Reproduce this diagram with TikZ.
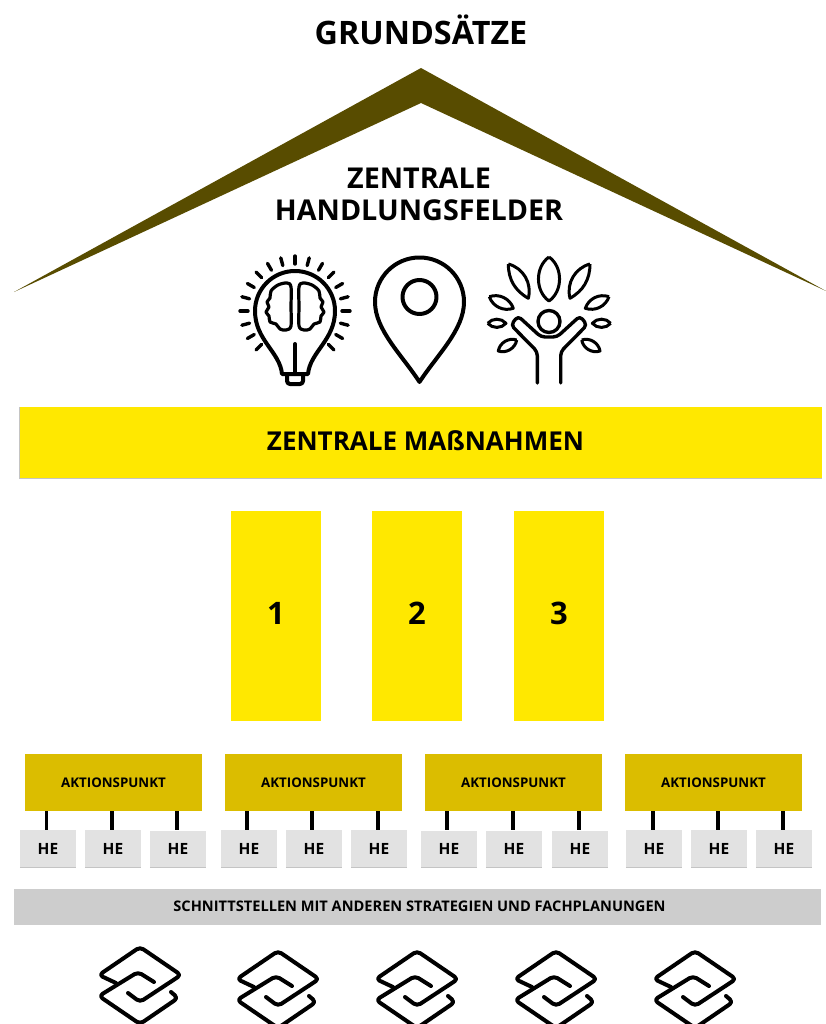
\documentclass[tikz,border=0pt]{standalone}
\usepackage{fontspec}
\setmainfont{Open Sans}
\usepackage{tikz}
\usetikzlibrary{positioning}

\definecolor{roofbrown}{HTML}{584C00}
\definecolor{hallyellow}{HTML}{FFE800}
\definecolor{pointyellow}{HTML}{DBBD00}
\definecolor{hegray}{HTML}{E2E2E2}
\definecolor{bargray}{HTML}{CDCDCD}
\definecolor{rimgray}{HTML}{C4C4C4}

\tikzset{
  title/.style={font=\fontsize{#1}{#1}\selectfont\bfseries,text=black,inner sep=0pt},
  block/.style={fill=#1,inner sep=0pt,anchor=center},
  rim/.style={draw=rimgray,line width=.8pt},
  icon/.style={draw=black,line width=4pt,line cap=round,line join=round,fill=none},
  leaf/.style={draw=black,line width=3pt,line join=round},
  pics/linkicon/.style={code={
    \draw[icon,rounded corners=4pt] (-24,36) -- (-41,28) -- (0,0) -- (41,28) -- (0,55) -- (-12,46);
    \draw[icon,rounded corners=4pt] (14,35) -- (-2,25) -- (-41,49) -- (0,77) -- (38,51) -- (31,45);
  }}
}

\begin{document}
\begin{tikzpicture}[x=1pt,y=-1pt]
  \useasboundingbox (0,0) rectangle (826,1024);

  \node[title=32.3] (grund) at (421,29.5) {GRUNDSÄTZE};
  \fill[roofbrown] (421,68) -- (826,291) -- (421,103) -- (14,292) -- cycle;
  \node[title=28.7] (feld1) at (419,178) {ZENTRALE};
  \node[title=28.7] (feld2) at (419,210) {HANDLUNGSFELDER};

  % bulb
  \coordinate (bulb) at (295,311);
  \foreach \a in {-45,-30,...,225}
    \draw[icon,line width=3.4pt] (bulb) ++(\a:47pt) -- ++(\a:8pt);
  \draw[icon] (282,374) .. controls (280,352) and (255,340) .. (255,311)
    arc[start angle=180,end angle=0,radius=40pt]
    .. controls (335,340) and (310,352) .. (308,374) -- cycle;
  \draw[icon,rounded corners=3pt] (287,375) -- (287,384) -- (303,384) -- (303,375);
  \draw[icon] (295,344) -- (295,374);
  \foreach \s in {1,-1}
    \draw[icon,line width=3.2pt,xshift=295pt,yshift=-311pt,xscale=\s] plot[smooth cycle,tension=.55] coordinates
      {(-4,-24) (-8,-28) (-17,-26) (-24,-20) (-25,-13) (-28,-9) (-26,-4) (-29,1) (-26,5) (-25,11) (-19,13) (-15,18) (-9,19) (-4,15) (-4,-4)};

  % pin
  \coordinate (pin) at (419.5,297);
  \draw[icon] (419.5,382) .. controls (402,355) and (375,330) .. (375,302)
    arc[start angle=180,end angle=0,radius=44.5pt]
    .. controls (464,330) and (437,355) .. cycle;
  \draw[icon] (pin) circle (17pt);

  % tree
  \coordinate (head) at (549,321.5);
  \draw[icon,line width=3.4pt] (head) circle (11pt);
  \draw[icon,line width=3.4pt,rounded corners=4pt] (537.3,383) -- (537.3,351.7) -- (511,325) -- (518,316) -- (541,337)
    -- (557,337) -- (580,316) -- (587,325) -- (560.7,351.7) -- (560.7,383);
  \draw[leaf] (549,257) to[bend left=55] (549,301) to[bend left=55] (549,257);
  \draw[leaf] (508.3,264) to[bend left=45] (528.3,298.3) to[bend left=30] (508.3,264);
  \draw[leaf] (590,264) to[bend left=30] (570,298.3) to[bend left=45] (590,264);
  \draw[leaf] (489.3,296.7) to[bend left=45] (513.3,308.3) to[bend left=45] (489.3,296.7);
  \draw[leaf] (609,296.7) to[bend left=45] (585.3,308.3) to[bend left=45] (609,296.7);
  \draw[leaf] (487.7,323.3) to[bend left=50] (506,323.3) to[bend left=50] (487.7,323.3);
  \draw[leaf] (610.7,323.3) to[bend left=50] (592.3,323.3) to[bend left=50] (610.7,323.3);
  \draw[leaf] (516.7,340) to[bend left=50] (498.3,351) to[bend left=50] (516.7,340);
  \draw[leaf] (581.7,340) to[bend left=50] (600,351) to[bend left=50] (581.7,340);

  % hall
  \node[block=hallyellow,minimum width=802pt,minimum height=71pt,
        label={[title=26,xshift=4.5pt,yshift=1.5pt]center:ZENTRALE MAßNAHMEN}] (hall) at (421,442.5) {};
  \draw[rim] (hall.north west) -- (hall.south west) -- (hall.south east);
  \foreach \n/\x in {1/276,2/417,3/559}
    \node[block=hallyellow,minimum width=90pt,minimum height=210pt,
          label={[title=31,yshift=3pt]center:\n}] (pillar\n) at (\x,616) {};

  % action points
  \foreach \n/\x in {1/113.5,2/313.5,3/513.5,4/713.5}
    \node[block=pointyellow,minimum width=177pt,minimum height=57pt,title=13.3] (ap\n) at (\x,782.5) {AKTIONSPUNKT};
  \foreach \n/\m/\x/\l/\y in {1/1/48/46.5/848.5,1/2/113/112/848.5,1/3/178/177/849,2/1/249/247/848.5,2/2/314/312/848.5,2/3/379/378/848.5,
                           3/1/449/447/849,3/2/514/513/849,3/3/580/579/849,4/1/654/653/848.5,4/2/719/718/848.5,4/3/784/783/848.5} {
    \node[block=hegray,minimum width=56pt,minimum height=37pt,title=15.5] (he\n\m) at (\x,\y) {HE};
    \draw[rim,line width=.6pt] (he\n\m.south west) -- (he\n\m.south east);
    \coordinate (t\n\m) at (\l,830);
    \draw[line width=3.5pt] (ap\n.south -| t\n\m) -- (t\n\m);
  }

  % interfaces
  \node[block=bargray,minimum width=807pt,minimum height=36pt,
        label={[title=14.6,xshift=2pt,yshift=1pt]center:SCHNITTSTELLEN MIT ANDEREN STRATEGIEN UND FACHPLANUNGEN}] (iface) at (417.5,907) {};
  \foreach \x/\y in {140/947,278/951,417/951,556/951,695/951}
    \pic at (\x,\y) {linkicon};
\end{tikzpicture}
\end{document}
